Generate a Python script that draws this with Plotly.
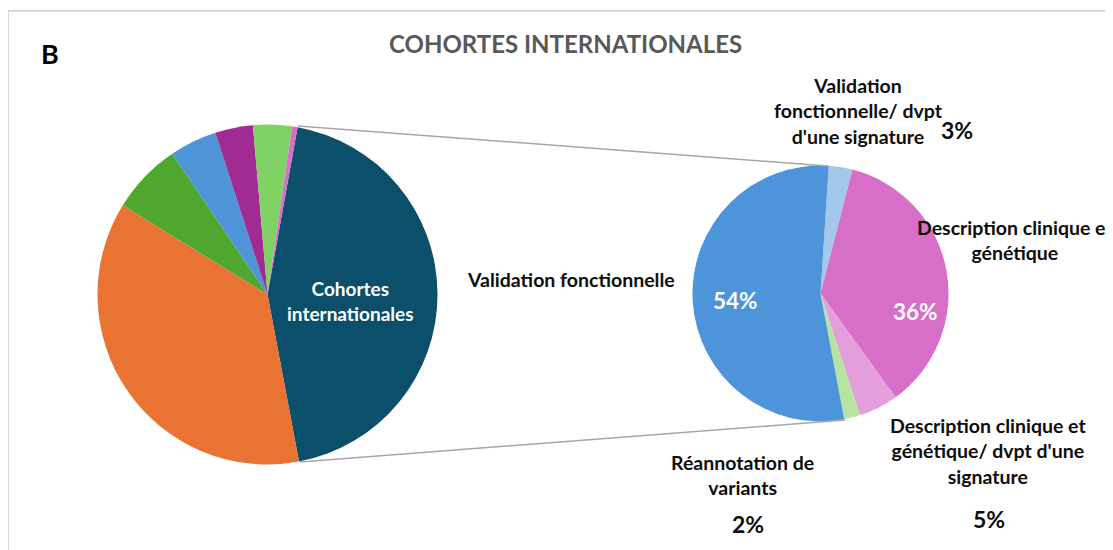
import plotly.graph_objects as go

W, H = 1113, 550
OFF = 8  # default page body margin
FW, FH = W - OFF, H - OFF

# ---- data ----
main_labels = ["Cohortes internationales", "Catégorie 2", "Catégorie 3", "Catégorie 4",
               "Catégorie 5", "Catégorie 6", "Catégorie 7"]
main_values = [44.2, 36.75, 6.75, 4.5, 3.6, 3.7, 0.5]
main_colors = ["#0B4F6A", "#E87332", "#50A72F", "#4E94D9", "#A02B92", "#80D264", "#D66FC8"]

sub_labels = ["Validation fonctionnelle/ dvpt d'une signature",
              "Description clinique et génétique",
              "Description clinique et génétique/ dvpt d'une signature",
              "Réannotation de variants",
              "Validation fonctionnelle"]
sub_values = [3, 36, 5, 2, 54]
sub_colors = ["#A4C7EC", "#D76FC8", "#E39FDC", "#B4E4A0", "#4D94DA"]

title_text = "COHORTES INTERNATIONALES"
panel_letter = "B"


def px(x):
    return (x - OFF) / FW


def py(y):
    return 1 - (y - OFF) / FH


def pct(i):
    return f"{sub_values[i]:.0f}%"


fig = go.Figure()

fig.add_trace(go.Pie(
    labels=main_labels, values=main_values, sort=False, direction="clockwise",
    rotation=10.2, marker=dict(colors=main_colors, line=dict(width=0)),
    textinfo="none", hoverinfo="label+percent", showlegend=False,
    domain=dict(x=[px(97.5), px(437.5)], y=[py(464.5), py(124.5)])
))

fig.add_trace(go.Pie(
    labels=sub_labels, values=sub_values, sort=False, direction="clockwise",
    rotation=3.7, marker=dict(colors=sub_colors, line=dict(width=0)),
    textinfo="none", hoverinfo="label+percent", showlegend=False,
    domain=dict(x=[px(692.5), px(948.5)], y=[py(421.5), py(165.5)])
))

FONT = "Lato"
dark = "#0D0D0D"
anns = []


def ann(x, y, text, size=19.5, color=dark, bold=True):
    anns.append(dict(
        x=px(x), y=py(y), xref="paper", yref="paper", text=text, showarrow=False,
        xanchor="center", yanchor="middle", align="center",
        font=dict(family=FONT, size=size, color=color, weight="bold" if bold else "normal"),
    ))


ann(50, 54, panel_letter, size=27, color="#000000")
ann(565, 43, title_text, size=24, color="#595959")
ann(350, 301, "Cohortes<br>internationales", size=19, color="#FFFFFF", bold=True)

ann(571, 279, sub_labels[4])
ann(735, 300, pct(4), size=22.5, color="#FFFFFF")
ann(915, 311, pct(1), size=22.5, color="#FFFFFF")
ann(858, 111, "Validation<br>fonctionnelle/ dvpt<br>d'une signature")
ann(957, 130, pct(0), size=23)
ann(1015, 240, "Description clinique et<br>génétique")
ann(988, 451, "Description clinique et<br>génétique/ dvpt d'une<br>signature")
ann(989, 519, pct(2), size=23)
ann(742, 475, "Réannotation de<br>variants")
ann(748, 524, pct(3), size=23)

shapes = [
    dict(type="rect", xref="paper", yref="paper", x0=px(8), y0=py(11), x1=px(1125), y1=py(560),
         line=dict(color="#D9D9D9", width=2), layer="below"),
    dict(type="line", xref="paper", yref="paper", x0=px(298), y0=py(126), x1=px(828), y1=py(166),
         line=dict(color="#A6A6A6", width=1.5)),
    dict(type="line", xref="paper", yref="paper", x0=px(300), y0=py(462), x1=px(845), y1=py(420),
         line=dict(color="#A6A6A6", width=1.5)),
]

fig.update_layout(
    width=FW, height=FH, margin=dict(l=0, r=0, t=0, b=0),
    paper_bgcolor="white", plot_bgcolor="white",
    annotations=anns, shapes=shapes,
)

fig.write_html("out.html")
